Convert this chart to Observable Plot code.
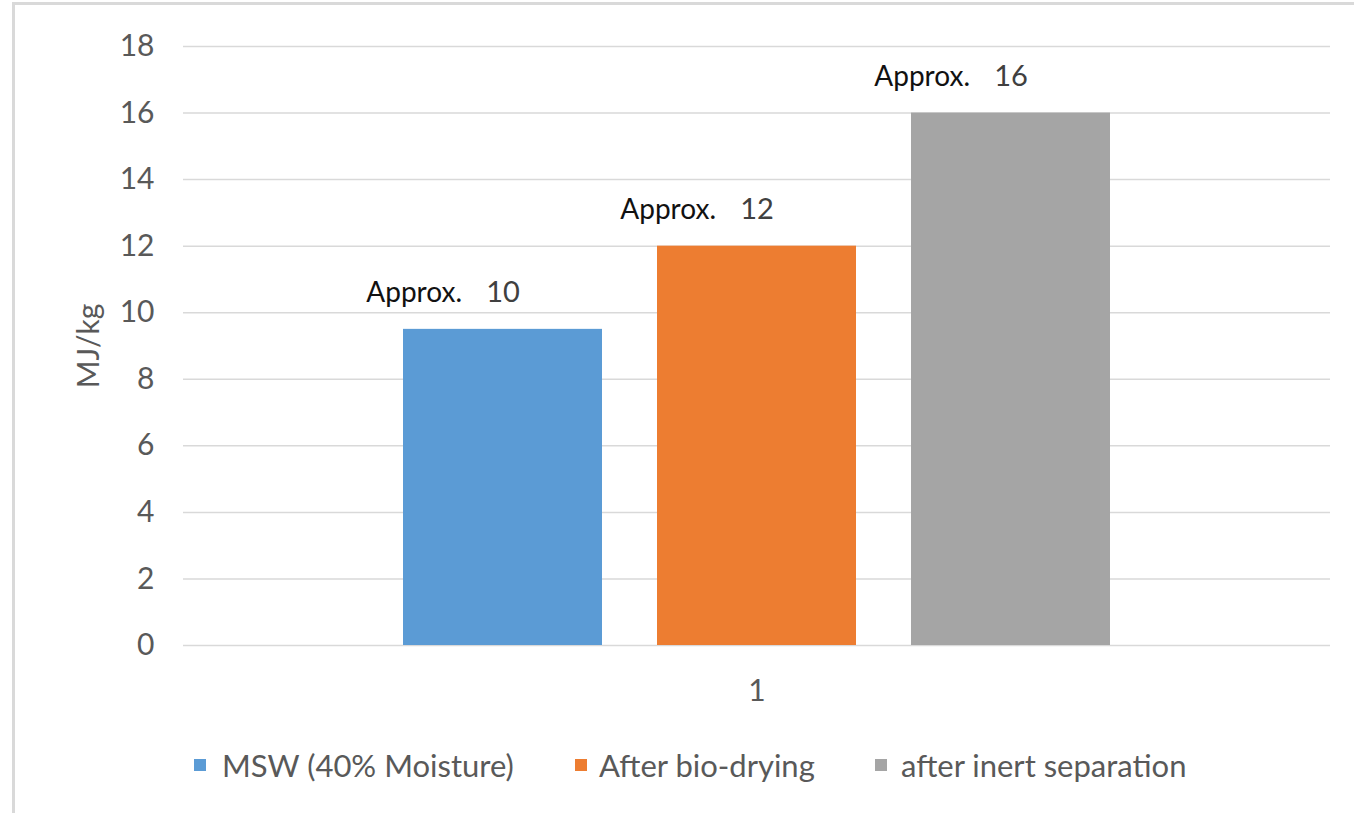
<!DOCTYPE html>
<html>
<head>
<meta charset="utf-8">
<script src="https://cdn.jsdelivr.net/npm/d3@7"></script>
<script src="https://cdn.jsdelivr.net/npm/@observablehq/plot@0.6"></script>
<style>
  html, body { margin: 0; padding: 0; background: #fff; overflow: hidden; width: 1354px; height: 813px; }
  #frame { position: absolute; left: 12px; top: 2px; width: 1400px; height: 900px;
           border-left: 3px solid #d9d9d9; border-top: 3px solid #d9d9d9; box-sizing: border-box; }
  #chart { position: absolute; left: 0; top: 0; }
  #legend { position: absolute; left: 0; top: 720px; width: 1354px; height: 90px;
            font-family: Lato, "Noto Sans", sans-serif; font-size: 31px; color: #595959; }
  .item { position: absolute; top: 30px; height: 30px; display: flex; align-items: center; white-space: nowrap; }
  .sw { width: 12px; height: 12px; display: inline-block; }
  .lab { display: inline-block; }
</style>
</head>
<body>
<div id="frame"></div>
<div id="chart"></div>
<div id="legend"></div>
<script>
// ---- data ----
const categories = ["1"];
const series = ["MSW (40% Moisture)", "After bio-drying", "after inert separation"];
const values = [9.5, 12, 16];
const labelPrefix = "Approx.";
const labelNumbers = ["10", "12", "16"];
const colors = ["#5b9bd5", "#ed7d31", "#a5a5a5"];
const yTicks = [0, 2, 4, 6, 8, 10, 12, 14, 16, 18];
const yTitle = "MJ/kg";

const rows = series.map((s, i) => ({series: s, value: values[i], num: labelNumbers[i], prefix: labelPrefix}));

const plot = Plot.plot({
  width: 1354,
  height: 720,
  marginLeft: 183,
  marginRight: 24,
  marginTop: 46,
  marginBottom: 75,
  style: {fontFamily: "Lato, 'Noto Sans', sans-serif", background: "transparent"},
  x: {type: "band", domain: series, paddingInner: 0.215, paddingOuter: 0.865, axis: null},
  y: {domain: [0, 18]},
  color: {domain: series, range: colors},
  marks: [
    Plot.gridY(yTicks, {stroke: "#d9d9d9", strokeOpacity: 1, strokeWidth: 1.5}),
    Plot.axisY(yTicks, {tickSize: 0, tickPadding: 29, fontSize: 30, fill: "#595959", label: null}),
    Plot.text([yTitle], {text: d => d, frameAnchor: "left", dx: -94, rotate: -90, fontSize: 30, fill: "#595959", textAnchor: "middle"}),
    Plot.barY(rows, {x: "series", y: "value", fill: "series"}),
    Plot.text(rows, {x: "series", y: "value", text: "num", dy: -27, lineAnchor: "bottom", textAnchor: "middle", fontSize: 29, fill: "#404040"}),
    Plot.text(rows, {x: "series", y: "value", text: "prefix", dy: -27, dx: -41, lineAnchor: "bottom", textAnchor: "end", fontSize: 28, fill: "#111"}),
    Plot.text(categories, {text: d => d, frameAnchor: "bottom", dy: 34, lineAnchor: "top", fontSize: 30, fill: "#595959"})
  ]
});
document.getElementById("chart").appendChild(plot);

// ---- legend ----
const legend = document.getElementById("legend");
const lefts = [194, 575, 875];
const gaps = [16, 12, 14];
series.forEach((s, i) => {
  const item = document.createElement("div");
  item.className = "item";
  item.style.left = lefts[i] + "px";
  const sw = document.createElement("span");
  sw.className = "sw";
  sw.style.background = plot.scale("color").apply(s);
  sw.style.marginRight = gaps[i] + "px";
  const lab = document.createElement("span");
  lab.className = "lab";
  lab.textContent = s;
  item.appendChild(sw);
  item.appendChild(lab);
  legend.appendChild(item);
});
</script>
</body>
</html>
